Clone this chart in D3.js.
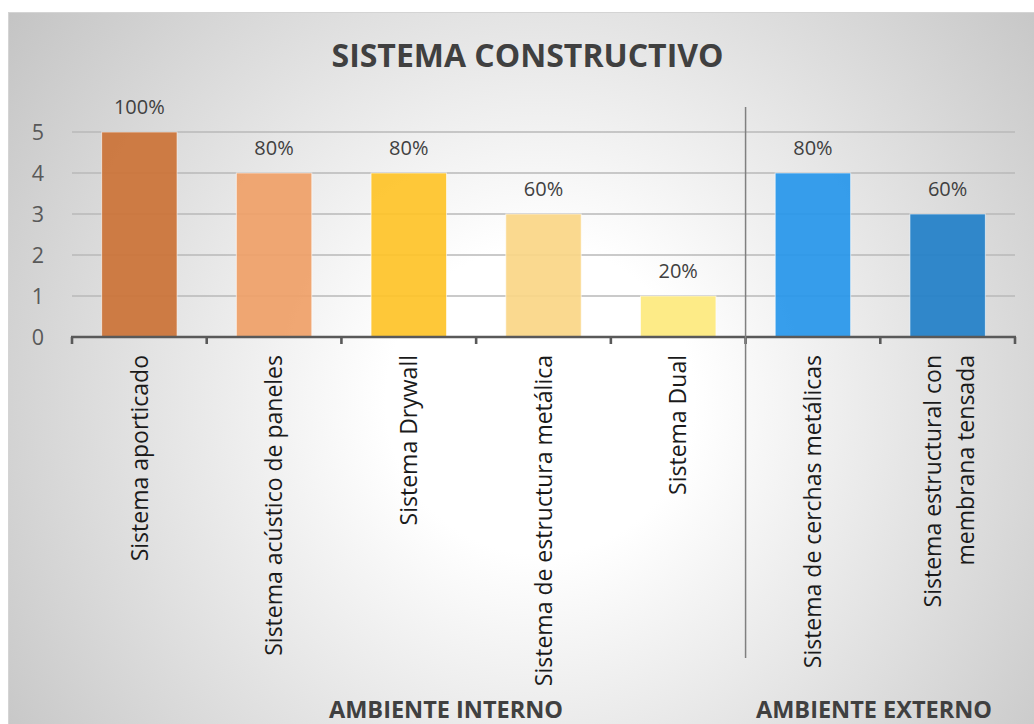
<!DOCTYPE html>
<html>
<head>
<meta charset="utf-8">
<script src="https://cdn.jsdelivr.net/npm/d3@7"></script>
<style>
  html, body { margin: 0; padding: 0; background: #ffffff; }
  svg { display: block; }
  text { font-family: "Open Sans", "Noto Sans", sans-serif; }
</style>
</head>
<body>
<svg id="chart" width="1034" height="724"></svg>
<script>
// ---- data ----
const categories = [
  ["Sistema aporticado"],
  ["Sistema acústico de paneles"],
  ["Sistema Drywall"],
  ["Sistema de estructura metálica"],
  ["Sistema Dual"],
  ["Sistema de cerchas metálicas"],
  ["Sistema estructural con", "membrana tensada"]
];
const values = [5, 4, 4, 3, 1, 4, 3];
const percentLabels = ["100%", "80%", "80%", "60%", "20%", "80%", "60%"];
const barColors = ["#cb7338", "#efa068", "#fec42a", "#fad687", "#fde97e", "#2897eb", "#2280c8"];
const yTicks = [0, 1, 2, 3, 4, 5];
const groups = ["AMBIENTE INTERNO", "AMBIENTE EXTERNO"];
const groupSizes = [5, 2];
const title = "SISTEMA CONSTRUCTIVO";

// ---- layout ----
const W = 1034, H = 724;
const plot = { left: 72, right: 1015, top: 132, bottom: 337 };

const svg = d3.select("#chart");
const defs = svg.append("defs");
const grad = defs.append("radialGradient")
  .attr("id", "bg").attr("gradientUnits", "userSpaceOnUse")
  .attr("cx", 540).attr("cy", 400).attr("r", 700);
grad.append("stop").attr("offset", 0).attr("stop-color", "#ffffff");
grad.append("stop").attr("offset", 0.22).attr("stop-color", "#ffffff");
grad.append("stop").attr("offset", 1).attr("stop-color", "#bfbfbf");

svg.append("rect").attr("x", 0).attr("y", 0).attr("width", W).attr("height", H).attr("fill", "#ffffff");
svg.append("rect").attr("x", 8.5).attr("y", 12.5).attr("width", W + 20).attr("height", H + 20)
  .attr("fill", "url(#bg)").attr("stroke", "#d4d4d4").attr("stroke-width", 1);

const x = d3.scaleBand()
  .domain(d3.range(categories.length))
  .range([plot.left, plot.right])
  .paddingInner(0.44).paddingOuter(0.22);
const y = d3.scaleLinear().domain([0, 5]).range([plot.bottom, plot.top]);
const step = x.step();
const boundary = i => plot.left + i * step;

// gridlines
svg.append("g").selectAll("line").data(yTicks.filter(d => d > 0)).join("line")
  .attr("x1", plot.left).attr("x2", plot.right)
  .attr("y1", d => y(d)).attr("y2", d => y(d))
  .attr("stroke", "#b8b8b8").attr("stroke-width", 1.4);

// bars
svg.append("g").selectAll("rect").data(values).join("rect")
  .attr("x", (d, i) => x(i)).attr("width", x.bandwidth())
  .attr("y", d => y(d)).attr("height", d => y(0) - y(d))
  .attr("fill", (d, i) => barColors[i]).attr("fill-opacity", 0.93)
  .attr("stroke", "rgba(255,255,255,0.6)").attr("stroke-width", 1);

// data labels
svg.append("g").selectAll("text").data(values).join("text")
  .attr("x", (d, i) => x(i) + x.bandwidth() / 2)
  .attr("y", d => y(d) - 18)
  .attr("text-anchor", "middle")
  .attr("font-size", 20).attr("fill", "#404040")
  .text((d, i) => percentLabels[i]);

// y axis labels
svg.append("g").selectAll("text").data(yTicks).join("text")
  .attr("x", 44).attr("y", d => y(d))
  .attr("dy", "0.36em")
  .attr("text-anchor", "end")
  .attr("font-size", 21.5).attr("fill", "#595959")
  .text(d => d);

// x axis line & ticks
svg.append("line").attr("x1", plot.left - 1).attr("x2", plot.right + 1)
  .attr("y1", plot.bottom).attr("y2", plot.bottom)
  .attr("stroke", "#595959").attr("stroke-width", 2.6);
svg.append("g").selectAll("line").data(d3.range(categories.length + 1)).join("line")
  .attr("x1", d => boundary(d)).attr("x2", d => boundary(d))
  .attr("y1", plot.bottom).attr("y2", plot.bottom + 7)
  .attr("stroke", "#595959").attr("stroke-width", 2.6);

// divider between groups
const divX = boundary(groupSizes[0]);
svg.append("line").attr("x1", divX).attr("x2", divX)
  .attr("y1", 107).attr("y2", 658)
  .attr("stroke", "#808080").attr("stroke-width", 1.5);

// category labels (rotated)
const catG = svg.append("g");
categories.forEach((lines, i) => {
  const cx = x(i) + x.bandwidth() / 2;
  const n = lines.length;
  lines.forEach((ln, j) => {
    const off = (j - (n - 1) / 2) * 33 + (n > 1 ? 2 : 0);
    catG.append("text")
      .attr("transform", `translate(${cx + off},355) rotate(-90)`)
      .attr("text-anchor", "end")
      .attr("dy", "0.36em")
      .attr("font-size", 23).attr("fill", "#1a1a1a")
      .text(ln);
  });
});

// group labels
const groupCenters = [446, 874];
svg.append("g").selectAll("text").data(groups).join("text")
  .attr("x", (d, i) => groupCenters[i]).attr("y", 718)
  .attr("text-anchor", "middle")
  .attr("font-size", 23.5).attr("font-weight", "bold").attr("fill", "#404040")
  .text(d => d);

// title
svg.append("text").attr("x", 527.5).attr("y", 67)
  .attr("text-anchor", "middle")
  .attr("font-size", 32).attr("font-weight", "bold").attr("fill", "#404040")
  .text(title);
</script>
</body>
</html>
